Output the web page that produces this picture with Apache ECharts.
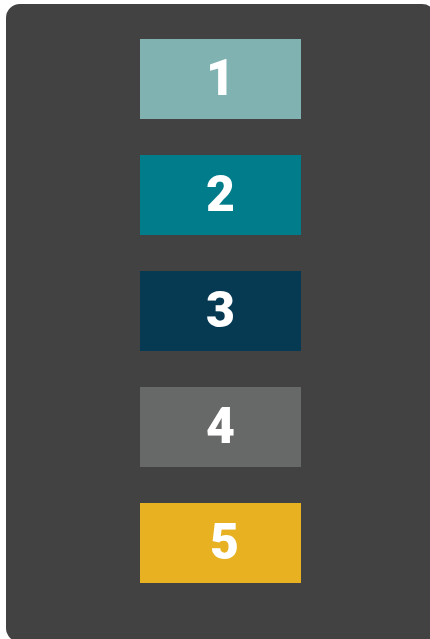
<!DOCTYPE html>
<html>
<head>
<meta charset="utf-8">
<script src="https://cdn.jsdelivr.net/npm/echarts@6/dist/echarts.min.js"></script>
<style>
  html, body { margin: 0; padding: 0; background: #fff; }
  #main { width: 430px; height: 639px; }
</style>
</head>
<body>
<div id="main"></div>
<script>
// 五个色块，从上到下
var categories = ['1', '2', '3', '4', '5']
var values = [1, 1, 1, 1, 1]
var colors = ['#7FB2B1', '#007C8A', '#063A53', '#676968', '#E7B122']

var chart = echarts.init(document.getElementById('main'))
var option = {
  animation: false,
  // 深灰圆角背景
  graphic: [
    {
      type: 'rect',
      z: -10,
      shape: { x: 6, y: 4, width: 430, height: 638, r: 14 },
      style: { fill: '#424242' }
    }
  ],
  grid: {
    left: 140,
    width: 161,
    top: 21,
    height: 580
  },
  xAxis: {
    type: 'value',
    min: 0,
    max: 1,
    show: false
  },
  yAxis: {
    type: 'category',
    data: categories,
    inverse: true,
    show: false
  },
  series: [
    {
      type: 'bar',
      barWidth: 80,
      data: values.map(function (v, i) {
        return {
          value: v,
          itemStyle: { color: colors[i] },
          label: { offset: i === 4 ? [4, 3] : [0, 3] }
        }
      }),
      label: {
        show: true,
        position: 'inside',
        formatter: function (p) {
          return categories[p.dataIndex]
        },
        color: '#fff',
        fontFamily: 'Roboto',
        fontWeight: 900,
        fontSize: 50
      }
    }
  ]
}
chart.setOption(option)
</script>
</body>
</html>
